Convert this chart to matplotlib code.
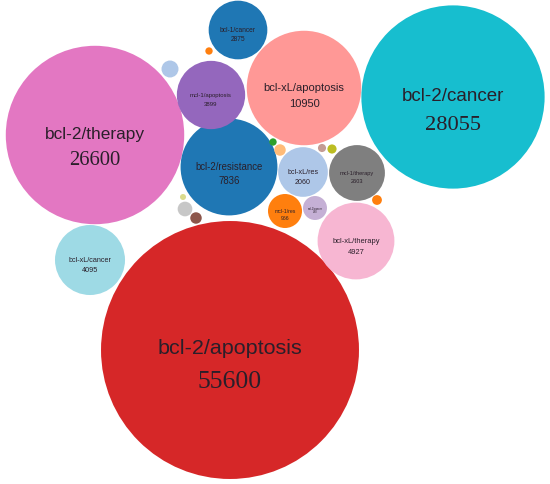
import matplotlib
matplotlib.use('Agg')
import matplotlib.pyplot as plt
from matplotlib.patches import Circle
import numpy as np

# bubble data (d3 style packed bubbles)
names = ['bcl-2/apoptosis', 'bcl-2/cancer', 'bcl-2/therapy', 'bcl-xL/apoptosis',
         'bcl-2/resistance', 'bcl-xL/therapy', 'bcl-xL/cancer', 'mcl-1/apoptosis',
         'bcl-1/cancer', 'mcl-1/therapy', 'bcl-xL/res', 'mcl-1/res', 'mcl-1/cancer',
         'bcl-w', '', '', '', '', '', '', '', '', '']
values = [55600, 28055, 26600, 10950, 7836, 4927, 4095, 3899, 2875, 2603, 2060,
          966, 480, 240, 45, 45, 110, 55, 70, 80, 180, 30, 110]
colors = ['#d62728', '#17becf', '#e377c2', '#ff9896', '#1f77b4', '#f7b6d2', '#9edae5',
          '#9467bd', '#1f77b4', '#7f7f7f', '#aec7e8', '#ff7f0e', '#c5b0d5', '#aec7e8',
          '#ff7f0e', '#2ca02c', '#ffbb78', '#c49c94', '#bcbd22', '#ff7f0e', '#c7c7c7',
          '#dbdb8d', '#8c564b']

# layout of the pack (pixel positions of bubble centres)
cx = [230, 453, 95, 304, 229, 356, 90, 211, 238, 357, 303, 285, 315, 170,
      209, 273, 280, 322, 332, 377, 185, 183, 196]
cy = [351, 98, 136, 89, 168, 242, 261, 96, 31, 174, 173, 212, 209, 70,
      52, 143, 151, 149, 150, 201, 210, 198, 219]

big = ['bcl-2/apoptosis', 'bcl-2/cancer', 'bcl-2/therapy']

W, H = 550, 485
fig = plt.figure(figsize=(W / 100, H / 100), dpi=100)
ax = fig.add_axes([0, 0, 1, 1])
ax.set_xlim(0, W)
ax.set_ylim(H, 0)
ax.set_aspect('equal')
ax.axis('off')

k = 0.547  # radius scale, r = k * sqrt(value)
renderer = fig.canvas.get_renderer()
txt_color = '#2a1f2a'

for name, val, col, x, y in zip(names, values, colors, cx, cy):
    r = k * np.sqrt(val)
    ax.add_patch(Circle((x, y), r, facecolor=col, edgecolor='none'))
    if r < 10:
        continue

    # fit label width to a share of the diameter
    if r > 80:
        frac = 0.56
    elif r > 40:
        frac = 0.7
    else:
        frac = 0.62
    t = ax.text(x, y, name if name else '-', ha='center', va='center',
                fontsize=10, family='Liberation Sans', color=txt_color)
    w = t.get_window_extent(renderer).width
    fs = 10 * frac * 2 * r / max(w, 1)
    t.set_fontsize(fs)
    fs_px = fs / 0.72
    t.set_position((x, y - 0.1 * fs_px))

    if name in big:
        ax.text(x, y + 1.45 * fs_px, str(val), ha='center', va='center',
                fontsize=fs * 1.2, family='Liberation Serif', color=txt_color)
    else:
        ax.text(x, y + 1.35 * fs_px, str(val), ha='center', va='center',
                fontsize=fs, family='Liberation Sans', color=txt_color)

fig.savefig('out.png', dpi=100, facecolor='white')
